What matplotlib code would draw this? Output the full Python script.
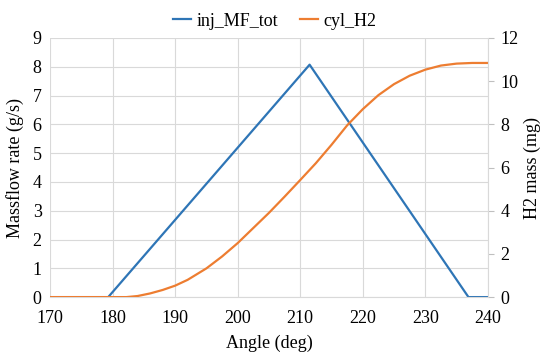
import matplotlib
matplotlib.use("Agg")
import matplotlib.pyplot as plt

plt.rcParams['font.family'] = ['Liberation Serif', 'DejaVu Serif']

# inj_MF_tot (g/s), left axis
mf_angle = [170, 179.3, 211.5, 236.9, 240]
mf_tot = [0, 0, 8.07, 0, 0]

# cyl_H2 (mg), right axis
h2_angle = [170, 182.2, 184, 186, 188, 190, 192, 195, 197.5, 200, 202.5, 205, 207.5,
            210, 212.5, 215, 217.5, 220, 222.5, 225, 227.5, 230, 232.5, 235, 237.5, 240]
h2_mass = [0, 0, 0.05, 0.17, 0.33, 0.53, 0.8, 1.33, 1.88, 2.5, 3.2, 3.9, 4.65,
           5.42, 6.2, 7.05, 7.95, 8.7, 9.35, 9.86, 10.25, 10.53, 10.72, 10.81, 10.84, 10.84]

blue = "#2E75B6"
orange = "#ED7D31"
grid_c = "#D9D9D9"

fig = plt.figure(figsize=(5.5, 3.61), dpi=100)
ax = fig.add_axes([0.091, 0.177, 0.796, 0.718])
ax2 = ax.twinx()

l1, = ax.plot(mf_angle, mf_tot, color=blue, lw=1.6, label="inj_MF_tot")
l2, = ax2.plot(h2_angle, h2_mass, color=orange, lw=1.6, label="cyl_H2")

ax.set_xlim(170, 240)
ax.set_ylim(0, 9)
ax2.set_ylim(0, 12)
ax.set_xticks(range(170, 241, 10))
ax.set_yticks(range(0, 10))
ax2.set_yticks(range(0, 13, 2))

ax.grid(True, color=grid_c, lw=0.8)
ax.set_axisbelow(True)

for a in (ax, ax2):
    for s in a.spines.values():
        s.set_visible(False)
    a.tick_params(labelsize=13, length=0, pad=6)
ax.tick_params(axis='x', pad=9)
ax2.spines['right'].set_visible(True)
ax2.spines['right'].set_color(grid_c)
ax2.tick_params(axis='y', length=4, color="#BFBFBF", width=0.8, pad=5)
ax.spines['bottom'].set_visible(True)
ax.spines['bottom'].set_color(grid_c)

ax.set_xlabel("Angle (deg)", fontsize=13, labelpad=6)
ax.set_ylabel("Massflow rate (g/s)", fontsize=13, labelpad=6)
ax2.set_ylabel("H2 mass (mg)", fontsize=13, labelpad=4)

fig.legend(handles=[l1, l2], loc="upper center", bbox_to_anchor=(0.5, 1.01), ncol=2,
           frameon=False, fontsize=13, handlelength=1.0, handletextpad=0.3, columnspacing=1.2)

fig.savefig("out.png", dpi=100)
